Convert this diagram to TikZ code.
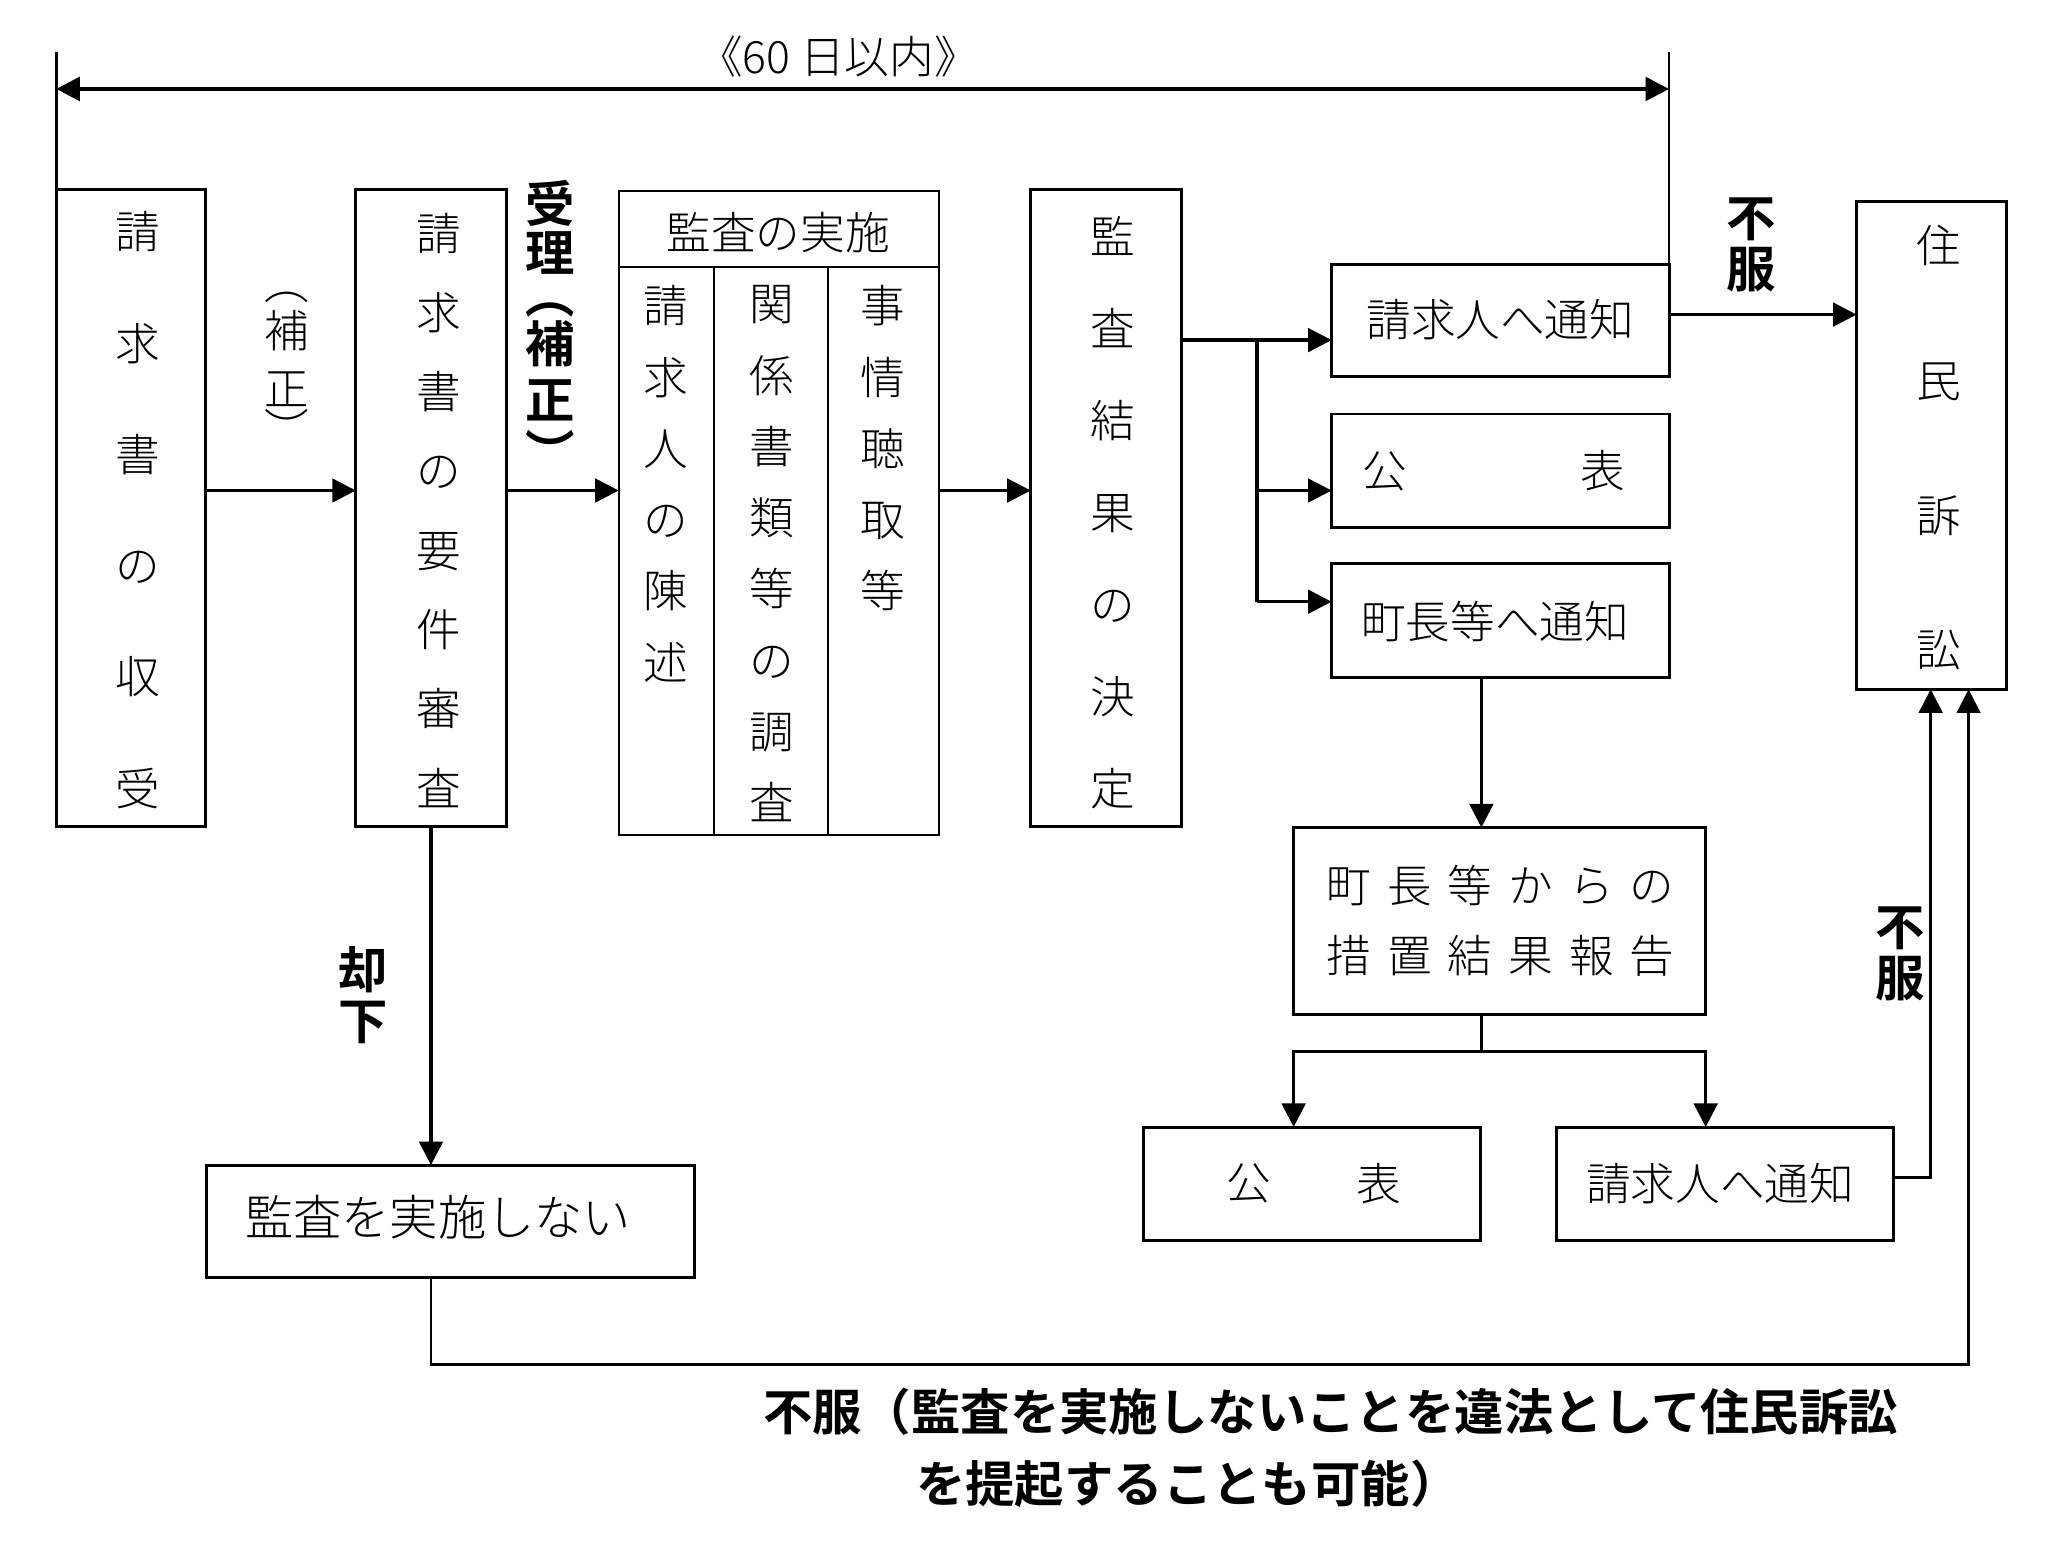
\documentclass[tikz,border=0pt]{standalone}
\usepackage{fontspec}
\newfontfamily\jp{Noto Sans CJK JP Light}[BoldFont={Noto Sans CJK JP Bold}]
\usetikzlibrary{arrows.meta,fit}
\newcommand\gapD{\hspace{0.246cm}}
\tikzset{
  box/.style={draw, line width=1.3pt, inner sep=0pt, outer sep=0pt},
  thinbox/.style={draw, line width=0.9pt, inner sep=0pt, outer sep=0pt},
  con/.style={line width=1.4pt},
  tip/.tip={Triangle[length=3.6mm,width=3.6mm]},
  arr/.style={con, -tip},
  vt/.style={align=center, inner sep=0pt},
  txt/.style={inner sep=0pt, font=\jp\fontsize{19.4}{23}\selectfont},
  bl/.style={align=center, inner sep=0pt, font=\jp\bfseries\fontsize{21.5}{22.2}\selectfont},
}
\begin{document}
\begin{tikzpicture}[x=0.02cm, y=-0.02cm]
\useasboundingbox (0,0) rectangle (1568,1180);

% helper coordinates
\coordinate (y68) at (0,68);
\coordinate (y204) at (0,204);
\coordinate (y240) at (0,240.5);
\coordinate (y260) at (0,260);
\coordinate (y375) at (0,375);
\coordinate (y900) at (0,900);
\coordinate (y1043) at (0,1043);
\coordinate (x329) at (329.5,0);
\coordinate (x1132) at (1132.5,0);
\coordinate (xF) at (1476,0);
\coordinate (xG) at (1505,0);
\coordinate (dL) at (43,40);
\coordinate (dR) at (1276,40);
\coordinate (br) at (961,260);
\coordinate (brb) at (961,460);
\coordinate (sp) at (1132.5,804);
\coordinate (spL) at (989,804);
\coordinate (spR) at (1304,804);

% boxes
\node[box, fit={(43,145)(157,632)}] (b1) {};
\node[box, fit={(272,145)(387,632)}] (b2) {};
\node[thinbox, fit={(473,146)(718,638)}] (tbl) {};
\node[box, fit={(788,145)(903,632)}] (b3) {};
\node[box, fit={(1018,202)(1276,288)}] (nA) {};
\node[box, fit={(1018,316.5)(1276,403)}] (nB) {};
\node[box, fit={(1018,431)(1276,517.6)}] (nC) {};
\node[box, fit={(1419.4,154)(1534,527)}] (sj) {};
\node[box, fit={(989,632.6)(1304,775.8)}] (nD) {};
\node[box, fit={(874.4,861.6)(1132,948)}] (nE) {};
\node[box, fit={(1189.6,861.6)(1447.5,948)}] (nF) {};
\node[box, fit={(157.5,890.7)(530.6,976.8)}] (nG) {};

% table inner lines
\draw[line width=0.9pt] (tbl.west |- y204) -- (tbl.east |- y204);
\draw[line width=0.9pt] (546,204) -- (546,638);
\draw[line width=0.9pt] (633,204) -- (633,638);

% dimension line
\draw[line width=1.2pt] (dL) -- (b1.north west);
\draw[line width=1.2pt] (dR) -- (nA.north east);
\draw[line width=1.7pt, tip-tip] (dL |- y68) -- (dR |- y68);
\node[txt] (lim) at (641,43) {《60 日以内》};

% connectors
\draw[arr] (b1.east |- y375) -- (b2.west |- y375);
\draw[arr] (b2.east |- y375) -- (tbl.west |- y375);
\draw[arr] (tbl.east |- y375) -- (b3.west |- y375);
\draw[arr] (b3.east |- y260) -- (nA.west |- y260);
\draw[con] (br) -- (brb);
\draw[arr] (br |- y375) -- (nB.west |- y375);
\draw[arr] (brb) -- (nC.west |- brb);
\draw[arr] (nA.east |- y240) -- (sj.west |- y240);
\draw[arr] (nC.south -| x1132) -- (nD.north -| x1132);
\draw[con] (nD.south -| sp) -- (sp);
\draw[arr] (sp) -| (nE.north -| spL);
\draw[arr] (sp) -| (nF.north -| spR);
\draw[arr] (nF.east |- y900) -| (sj.south -| xF);
\draw[arr] (b2.south -| x329) -- (nG.north -| x329);
\draw[line width=1.1pt, -tip] (nG.south -| x329) -- (x329 |- y1043) -| (sj.south -| xG);

% box texts
\node[vt, font=\jp\fontsize{19.4}{48.4}\selectfont] (t1) at (105,390) {請\\求\\書\\の\\収\\受};
\node[vt, font=\jp\fontsize{19.4}{34.5}\selectfont] (t2) at (335.5,390) {請\\求\\書\\の\\要\\件\\審\\査};
\node[txt] (th) at (595,178) {監査の実施};
\node[vt, font=\jp\fontsize{19.4}{31}\selectfont, anchor=north] (tc1) at (509,218) {請\\求\\人\\の\\陳\\述};
\node[vt, font=\jp\fontsize{19.4}{31}\selectfont, anchor=north] (tc2) at (590,218) {関\\係\\書\\類\\等\\の\\調\\査};
\node[vt, font=\jp\fontsize{19.4}{31}\selectfont, anchor=north] (tc3) at (675,218) {事\\情\\聴\\取\\等};
\node[vt, font=\jp\fontsize{19.4}{40}\selectfont] (t3) at (850.6,391.8) {監\\査\\結\\果\\の\\決\\定};
\node[txt] (tA) at (1147,244) {請求人へ通知};
\node[txt] (tB1) at (1059,360) {公};
\node[txt] (tB2) at (1225.6,360) {表};
\node[txt] (tC) at (1143,475) {町長等へ通知};
\node[vt, font=\jp\fontsize{19.4}{58.6}\selectfont] (tS) at (1482,342.5) {住\\民\\訴\\訟};
\node[vt, font=\jp\fontsize{19.4}{30.7}\selectfont] (tD) at (1147,704) {町\gapD 長\gapD 等\gapD か\gapD ら\gapD の\\措\gapD 置\gapD 結\gapD 果\gapD 報\gapD 告};
\node[txt] (tE1) at (954.6,905) {公};
\node[txt] (tE2) at (1054,905) {表};
\node[txt] (tF) at (1315,905) {請求人へ通知};
\node[inner sep=0pt, font=\jp\fontsize{21}{23}\selectfont] (tG) at (335,930.6) {監査を実施しない};

% label (補正): the vertical brackets keep a full em box
\node[txt] (lh1) at (219,215.7) {\vphantom{補}︵};
\node[txt] (lh2) at (219,253) {補};
\node[txt] (lh3) at (219,297.5) {正};
\node[txt] (lh4) at (219,328.8) {\vphantom{補}︶};
% label 受理（補正）
\node[bl] (lj1) at (420.5,155.8) {受};
\node[bl] (lj2) at (420.5,193.7) {理};
\node[bl] (lj3) at (420.5,225.4) {\vphantom{補}︵};
\node[bl] (lj4) at (420.5,263.1) {補};
\node[bl] (lj5) at (420.5,305.8) {正};
\node[bl] (lj6) at (420.5,346.1) {\vphantom{補}︶};
\node[bl] (lf1) at (1338.5,187) {不\\服};
\node[bl] (lf2) at (1453,729) {不\\服};
\node[bl] (lk) at (278,761) {却\\下};
\node[anchor=west, inner sep=0pt, font=\jp\bfseries\fontsize{21.5}{22}\selectfont] (note1) at (583,1079) {不服（監査を実施しないことを違法として住民訴訟};
\node[anchor=west, inner sep=0pt, font=\jp\bfseries\fontsize{21.5}{22}\selectfont] (note2) at (700,1134) {を提起することも可能）};
\end{tikzpicture}
\end{document}
